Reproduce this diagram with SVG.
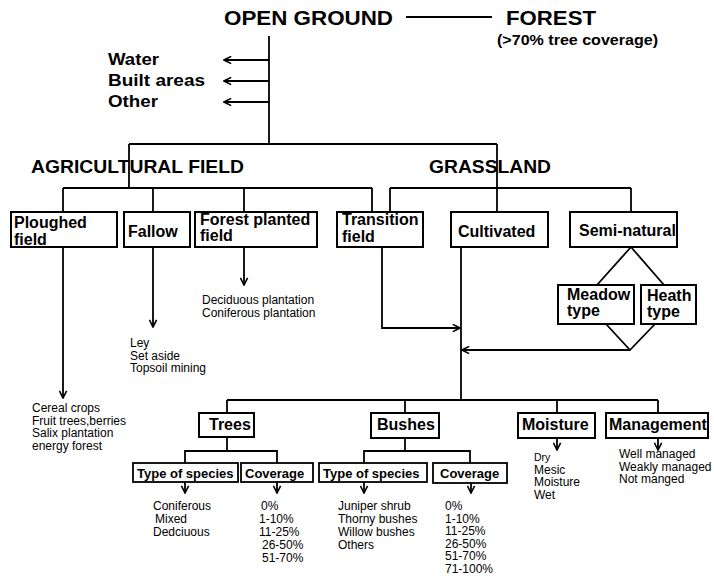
<svg xmlns="http://www.w3.org/2000/svg" width="714" height="579" viewBox="0 0 714 579">
<style>
.bg{fill:#fff}
.ln{fill:none;stroke:#000;stroke-width:1.8}
.bx{fill:#fff;stroke:#000;stroke-width:2}
.sb{fill:#fff;stroke:#000;stroke-width:1.8}
text{font-family:"Liberation Sans",Arial,sans-serif;fill:#000}
.h{font-weight:bold}
.b{font-weight:bold;font-size:16px}
.s{font-weight:bold;font-size:13px}
.l{font-size:12px}
</style>
<defs>
<marker id="ah" viewBox="0 0 10 10" refX="9" refY="5" markerWidth="9" markerHeight="9" markerUnits="userSpaceOnUse" orient="auto">
<path d="M1,1 L9,5 L1,9" fill="none" stroke="#000" stroke-width="1.8"/>
</marker>
</defs>
<rect class="bg" width="714" height="579"/>

<g id="connectors">
<line class="ln" x1="406" y1="17" x2="492" y2="17"/>
<line class="ln" x1="269" y1="36" x2="269" y2="144"/>
<line class="ln" x1="269" y1="60" x2="224" y2="60" marker-end="url(#ah)"/>
<line class="ln" x1="269" y1="81" x2="224" y2="81" marker-end="url(#ah)"/>
<line class="ln" x1="269" y1="102" x2="224" y2="102" marker-end="url(#ah)"/>
<line class="ln" x1="129" y1="144" x2="497" y2="144"/>
<line class="ln" x1="129" y1="144" x2="129" y2="188"/>
<line class="ln" x1="497" y1="144" x2="497" y2="212"/>
<line class="ln" x1="63" y1="188" x2="372" y2="188"/>
<line class="ln" x1="63" y1="188" x2="63" y2="212"/>
<line class="ln" x1="153" y1="188" x2="153" y2="212"/>
<line class="ln" x1="244" y1="188" x2="244" y2="212"/>
<line class="ln" x1="372" y1="188" x2="372" y2="212"/>
<line class="ln" x1="390" y1="188" x2="631" y2="188"/>
<line class="ln" x1="390" y1="188" x2="390" y2="212"/>
<line class="ln" x1="631" y1="188" x2="631" y2="212"/>
<line class="ln" x1="63" y1="247" x2="63" y2="398" marker-end="url(#ah)"/>
<line class="ln" x1="153" y1="247" x2="153" y2="327" marker-end="url(#ah)"/>
<line class="ln" x1="244" y1="247" x2="244" y2="285" marker-end="url(#ah)"/>
<polyline class="ln" points="382,247 382,328 460,328" marker-end="url(#ah)"/>
<line class="ln" x1="461" y1="247" x2="461" y2="400"/>
<polyline class="ln" points="597,285 631,247 664,285"/>
<polyline class="ln" points="606,324 630,350 655,324"/>
<line class="ln" x1="630" y1="350" x2="462" y2="350" marker-end="url(#ah)"/>
<line class="ln" x1="227" y1="400" x2="658" y2="400"/>
<line class="ln" x1="227" y1="400" x2="227" y2="413"/>
<line class="ln" x1="405" y1="400" x2="405" y2="413"/>
<line class="ln" x1="557" y1="400" x2="557" y2="413"/>
<line class="ln" x1="658" y1="400" x2="658" y2="413"/>
<line class="ln" x1="227" y1="437" x2="227" y2="451"/>
<polyline class="ln" points="185,463 185,451 277,451 277,463"/>
<line class="ln" x1="405" y1="438" x2="405" y2="451"/>
<polyline class="ln" points="364,463 364,451 470,451 470,463"/>
<line class="ln" x1="185" y1="482" x2="185" y2="493" marker-end="url(#ah)"/>
<line class="ln" x1="277" y1="482" x2="277" y2="493" marker-end="url(#ah)"/>
<line class="ln" x1="364" y1="482" x2="364" y2="493" marker-end="url(#ah)"/>
<line class="ln" x1="471" y1="483" x2="471" y2="493" marker-end="url(#ah)"/>
<line class="ln" x1="557" y1="438" x2="557" y2="450" marker-end="url(#ah)"/>
<line class="ln" x1="658" y1="438" x2="658" y2="450" marker-end="url(#ah)"/>
</g>

<g id="open-ground"><text class="h" x="224" y="25" font-size="21" textLength="169" lengthAdjust="spacingAndGlyphs">OPEN GROUND</text></g>
<g id="forest">
<text class="h" x="506" y="25" font-size="21" textLength="90" lengthAdjust="spacingAndGlyphs">FOREST</text>
<text class="h" x="497" y="45" font-size="14.5" textLength="161" lengthAdjust="spacingAndGlyphs">(&gt;70% tree coverage)</text>
</g>
<g id="water"><text class="h" x="108" y="65" font-size="17" textLength="51" lengthAdjust="spacingAndGlyphs">Water</text></g>
<g id="built-areas"><text class="h" x="108" y="86" font-size="17" textLength="97" lengthAdjust="spacingAndGlyphs">Built areas</text></g>
<g id="other"><text class="h" x="108" y="107" font-size="17" textLength="50" lengthAdjust="spacingAndGlyphs">Other</text></g>
<g id="agricultural-field"><text class="h" x="31" y="173" font-size="18.5" textLength="213" lengthAdjust="spacingAndGlyphs">AGRICULTURAL FIELD</text></g>
<g id="grassland"><text class="h" x="429" y="173" font-size="18.5" textLength="122" lengthAdjust="spacingAndGlyphs">GRASSLAND</text></g>

<g id="ploughed-field">
<rect class="bx" x="11" y="212" width="106" height="35"/>
<text class="b" x="14" y="228">Ploughed<tspan x="14" y="244.5">field</tspan></text>
</g>
<g id="ploughed-list">
<text class="l" x="32" y="412">Cereal crops<tspan x="32" y="424.5">Fruit trees,berries</tspan><tspan x="32" y="437">Salix plantation</tspan><tspan x="32" y="449.5">energy forest</tspan></text>
</g>
<g id="fallow">
<rect class="bx" x="124" y="212" width="66" height="35"/>
<text class="b" x="128" y="237">Fallow</text>
</g>
<g id="fallow-list">
<text class="l" x="130" y="347">Ley<tspan x="130" y="359.5">Set aside</tspan><tspan x="130" y="372">Topsoil mining</tspan></text>
</g>
<g id="forest-planted-field">
<rect class="bx" x="195" y="212" width="122" height="35"/>
<text class="b" x="200" y="225">Forest planted<tspan x="200" y="241">field</tspan></text>
</g>
<g id="forest-planted-list">
<text class="l" x="202" y="304" font-size="12.8">Deciduous plantation<tspan x="202" y="317">Coniferous plantation</tspan></text>
</g>
<g id="transition-field">
<rect class="bx" x="337" y="212" width="86" height="35"/>
<text class="b" x="342" y="225">Transition<tspan x="342" y="242">field</tspan></text>
</g>
<g id="cultivated">
<rect class="bx" x="451" y="212" width="97" height="35"/>
<text class="b" x="458" y="237">Cultivated</text>
</g>
<g id="semi-natural">
<rect class="bx" x="570" y="212" width="107" height="35"/>
<text class="b" x="579" y="236">Semi-natural</text>
</g>
<g id="meadow-type">
<rect class="bx" x="558" y="285" width="76" height="39"/>
<text class="b" x="567" y="299.5">Meadow<tspan x="567" y="316">type</tspan></text>
</g>
<g id="heath-type">
<rect class="bx" x="641" y="285" width="55" height="39"/>
<text class="b" x="647" y="301">Heath<tspan x="647" y="317">type</tspan></text>
</g>

<g id="trees">
<rect class="bx" x="199" y="413" width="55" height="24"/>
<text class="b" x="209" y="430">Trees</text>
</g>
<g id="trees-type-of-species">
<rect class="sb" x="133" y="463" width="105" height="19"/>
<text class="s" x="137" y="478">Type of species</text>
</g>
<g id="trees-coverage">
<rect class="sb" x="241" y="463" width="72" height="19"/>
<text class="s" x="245" y="478">Coverage</text>
</g>
<g id="trees-species-list">
<text class="l" x="153" y="510" font-size="12.5">Coniferous<tspan x="155" y="523">Mixed</tspan><tspan x="153" y="536">Dedciuous</tspan></text>
</g>
<g id="trees-coverage-list">
<text class="l" x="261" y="510" font-size="12.5">0%<tspan x="259" y="523">1-10%</tspan><tspan x="259" y="536">11-25%</tspan><tspan x="262" y="549">26-50%</tspan><tspan x="262" y="562">51-70%</tspan></text>
</g>

<g id="bushes">
<rect class="bx" x="371" y="413" width="68" height="25"/>
<text class="b" x="377" y="430">Bushes</text>
</g>
<g id="bushes-type-of-species">
<rect class="sb" x="319" y="463" width="108" height="19"/>
<text class="s" x="323" y="478">Type of species</text>
</g>
<g id="bushes-coverage">
<rect class="sb" x="433" y="463" width="74" height="20"/>
<text class="s" x="440" y="478">Coverage</text>
</g>
<g id="bushes-species-list">
<text class="l" x="338" y="510" font-size="12.5">Juniper shrub<tspan x="338" y="523">Thorny bushes</tspan><tspan x="338" y="536">Willow bushes</tspan><tspan x="338" y="549">Others</tspan></text>
</g>
<g id="bushes-coverage-list">
<text class="l" x="445" y="510">0%<tspan x="445" y="522.5">1-10%</tspan><tspan x="445" y="535">11-25%</tspan><tspan x="445" y="547.5">26-50%</tspan><tspan x="445" y="560">51-70%</tspan><tspan x="445" y="572.5">71-100%</tspan></text>
</g>

<g id="moisture">
<rect class="bx" x="518" y="413" width="77" height="25"/>
<text class="b" x="522" y="430">Moisture</text>
</g>
<g id="moisture-list">
<text class="l" x="534" y="461"><tspan font-size="10.5">Dry</tspan><tspan x="534" y="473.5">Mesic</tspan><tspan x="534" y="486">Moisture</tspan><tspan x="534" y="498.5">Wet</tspan></text>
</g>
<g id="management">
<rect class="bx" x="606" y="413" width="102" height="25"/>
<text class="b" x="609" y="430" font-size="15.5">Management</text>
</g>
<g id="management-list">
<text class="l" x="619" y="458" font-size="12.5">Well managed<tspan x="619" y="470.5">Weakly managed</tspan><tspan x="619" y="483">Not manged</tspan></text>
</g>
</svg>
